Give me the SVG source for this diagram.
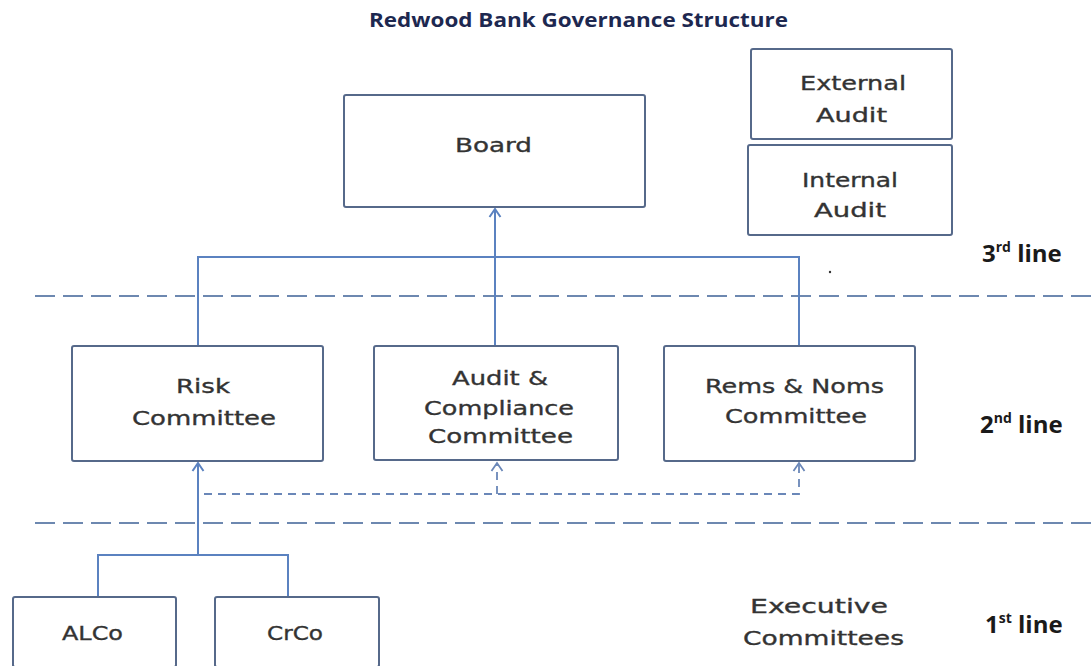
<svg xmlns="http://www.w3.org/2000/svg" width="1091" height="666" viewBox="0 0 1091 666">
  <defs>
    <style>
      .box { fill: #ffffff; stroke: #56698a; stroke-width: 2; }
      .lbl { font-family: "DejaVu Sans", Verdana, sans-serif; font-size: 20px; fill: #333333; stroke: #333333; stroke-width: 0.35; text-anchor: middle; }
      .tier { font-family: "Open Sans", "Liberation Sans", sans-serif; font-weight: bold; font-size: 24px; fill: #1a1a1a; }
      .sup { font-size: 14px; }
      .title { font-family: "Open Sans", "Liberation Sans", sans-serif; font-weight: bold; font-size: 19px; fill: #1d2850; text-anchor: middle; }
      .link { fill: none; stroke: #5b82c0; stroke-width: 2; }
      .dlink { fill: none; stroke: #6a87b8; stroke-width: 1.8; stroke-dasharray: 8 6; }
      .sep { fill: none; stroke: #6d88b0; stroke-width: 2; stroke-dasharray: 20 8; }
    </style>
    <marker id="chev" markerUnits="userSpaceOnUse" markerWidth="14" markerHeight="14" refX="10" refY="7" orient="auto">
      <path d="M2,1.5 L10,7 L2,12.5" fill="none" stroke="#5b82c0" stroke-width="2"/>
    </marker>
    <marker id="chevd" markerUnits="userSpaceOnUse" markerWidth="14" markerHeight="14" refX="10" refY="7" orient="auto">
      <path d="M2,1.5 L10,7 L2,12.5" fill="none" stroke="#6a87b8" stroke-width="1.8"/>
    </marker>
  </defs>

  <rect width="1091" height="666" fill="#ffffff"/>

  <text class="title" x="578.5" y="27" textLength="419" lengthAdjust="spacingAndGlyphs">Redwood Bank Governance Structure</text>

  <!-- tier separators -->
  <g id="separators">
    <line class="sep" x1="35" y1="296" x2="1091" y2="296"/>
    <line class="sep" x1="35" y1="523" x2="1091" y2="523"/>
  </g>

  <!-- reporting lines -->
  <g id="connectors">
    <path class="link" d="M198,346 V257 H799 V346"/>
    <path class="link" d="M495,346 V209" marker-end="url(#chev)"/>
    <path class="link" d="M98,597 V555 H288 V597"/>
    <path class="link" d="M198,555 V463" marker-end="url(#chev)"/>
    <path class="dlink" d="M204,494 H799 V463" marker-end="url(#chevd)"/>
    <path class="dlink" d="M497,494 V463" marker-end="url(#chevd)"/>
  </g>

  <g id="board">
    <rect class="box" x="344" y="95" width="301" height="112" rx="2"/>
    <text class="lbl" x="493.5" y="152" textLength="77" lengthAdjust="spacingAndGlyphs">Board</text>
  </g>

  <g id="external-audit">
    <rect class="box" x="751" y="49" width="201" height="90" rx="2"/>
    <text class="lbl" x="853" y="90" textLength="106" lengthAdjust="spacingAndGlyphs">External</text>
    <text class="lbl" x="851.5" y="122" textLength="71" lengthAdjust="spacingAndGlyphs">Audit</text>
  </g>

  <g id="internal-audit">
    <rect class="box" x="748" y="145" width="204" height="90" rx="2"/>
    <text class="lbl" x="850" y="187" textLength="96" lengthAdjust="spacingAndGlyphs">Internal</text>
    <text class="lbl" x="850" y="217" textLength="72" lengthAdjust="spacingAndGlyphs">Audit</text>
  </g>

  <circle cx="830" cy="272" r="1.2" fill="#333333"/>

  <g id="risk-committee">
    <rect class="box" x="72" y="346" width="251" height="115" rx="2"/>
    <text class="lbl" x="203" y="393" textLength="54" lengthAdjust="spacingAndGlyphs">Risk</text>
    <text class="lbl" x="204" y="425" textLength="144" lengthAdjust="spacingAndGlyphs">Committee</text>
  </g>

  <g id="audit-compliance-committee">
    <rect class="box" x="374" y="346" width="244" height="114" rx="2"/>
    <text class="lbl" x="500" y="385" textLength="96" lengthAdjust="spacingAndGlyphs">Audit &amp;</text>
    <text class="lbl" x="499" y="415" textLength="150" lengthAdjust="spacingAndGlyphs">Compliance</text>
    <text class="lbl" x="500.5" y="443" textLength="145" lengthAdjust="spacingAndGlyphs">Committee</text>
  </g>

  <g id="rems-noms-committee">
    <rect class="box" x="664" y="346" width="251" height="115" rx="2"/>
    <text class="lbl" x="794.5" y="393" textLength="179" lengthAdjust="spacingAndGlyphs">Rems &amp; Noms</text>
    <text class="lbl" x="796" y="423" textLength="142" lengthAdjust="spacingAndGlyphs">Committee</text>
  </g>

  <g id="alco">
    <rect class="box" x="13" y="597" width="163" height="70" rx="2"/>
    <text class="lbl" x="92.5" y="640" textLength="61" lengthAdjust="spacingAndGlyphs">ALCo</text>
  </g>

  <g id="crco">
    <rect class="box" x="215" y="597" width="164" height="70" rx="2"/>
    <text class="lbl" x="295" y="640" textLength="56" lengthAdjust="spacingAndGlyphs">CrCo</text>
  </g>

  <g id="executive-label">
    <text class="lbl" x="819" y="613" textLength="138" lengthAdjust="spacingAndGlyphs">Executive</text>
    <text class="lbl" x="823.5" y="645" textLength="161" lengthAdjust="spacingAndGlyphs">Committees</text>
  </g>

  <g id="tier-labels">
    <text class="tier" x="982" y="262">3<tspan class="sup" dy="-10">rd</tspan><tspan dy="10"> line</tspan></text>
    <text class="tier" x="980" y="433">2<tspan class="sup" dy="-10">nd</tspan><tspan dy="10"> line</tspan></text>
    <text class="tier" x="985" y="633">1<tspan class="sup" dy="-10">st</tspan><tspan dy="10"> line</tspan></text>
  </g>
</svg>
